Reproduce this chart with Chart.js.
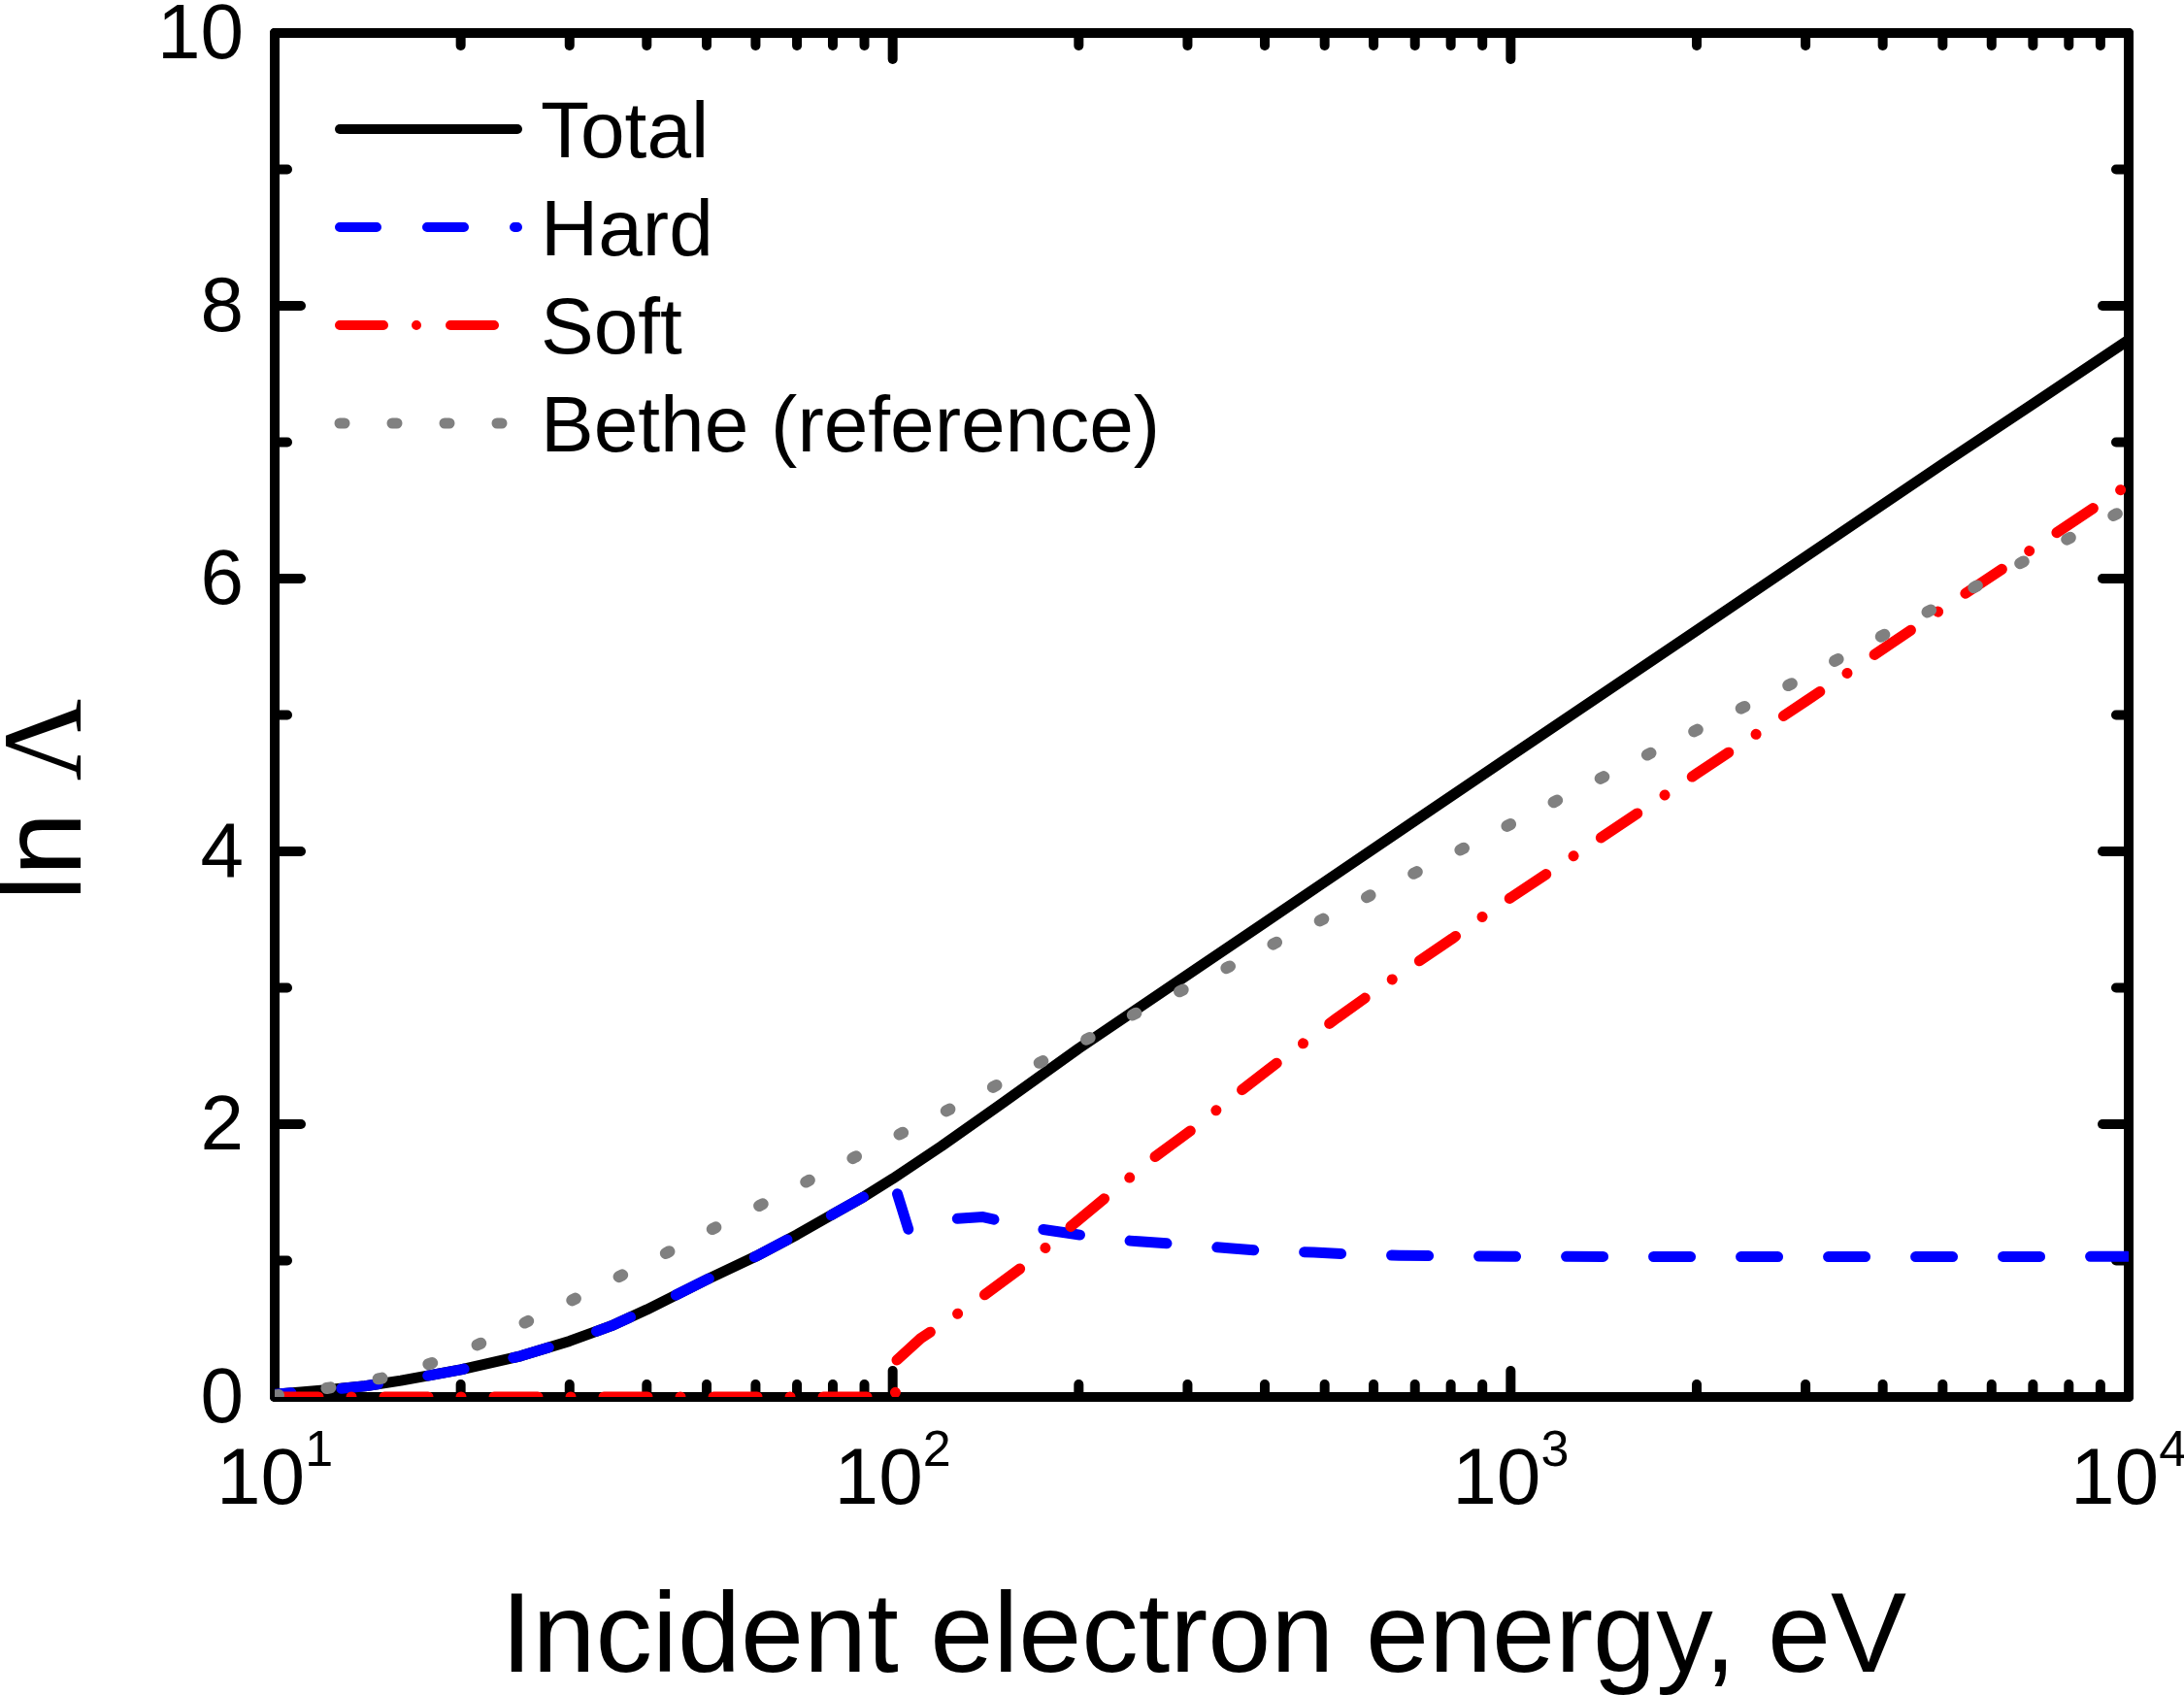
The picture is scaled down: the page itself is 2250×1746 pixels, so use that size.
<!DOCTYPE html>
<html><head><meta charset="utf-8">
<script src="https://cdn.jsdelivr.net/npm/chart.js@4.4.1/dist/chart.umd.min.js"></script>
<style>html,body{margin:0;padding:0;background:#fff;}#wrap{position:relative;width:2250px;height:1746px;}</style>
</head><body><div id="wrap"><canvas id="c"></canvas></div>
<script>
// ---- data ----
const totalE = [10,12,14,16,20,25,30,35,40,50,60,70,80,90,100,120,150,200,300,400,500,700,1000,2000,3000,5000,7000,10000];
const totalV = [0.02,0.05,0.08,0.12,0.20,0.30,0.41,0.52,0.64,0.86,1.03,1.19,1.34,1.47,1.60,1.84,2.15,2.555,3.095,3.478,3.776,4.225,4.70,5.62,6.16,6.84,7.28,7.75];

const hardE = [10,12,14,16,20,25,30,35,40,50,60,70,80,90,100,106,120,140,165,190,220,250,300,350,400,480,560,660,800,1000,2000,5000,10000];
const hardV = [0.02,0.05,0.08,0.12,0.20,0.30,0.41,0.52,0.64,0.86,1.03,1.19,1.34,1.47,1.60,1.23,1.30,1.32,1.245,1.205,1.16,1.14,1.115,1.09,1.07,1.06,1.045,1.037,1.033,1.03,1.028,1.028,1.03];

const softE = [10,101,101,111,121,140,164,193,225,262,305,353,405,464,524,596,662,804,945,1000,1400,2000,3000,5000,7000,10000];
const softV = [0,0,0.26,0.43,0.54,0.74,0.97,1.24,1.49,1.74,1.96,2.19,2.40,2.60,2.78,2.96,3.10,3.36,3.59,3.66,4.10,4.57,5.10,5.78,6.22,6.69];

const betheE = [10,12,15,18,21,25,30,36,43,51,61,73,87,103,120,143,170,200,230,270,315,365,425,485,550,620,720,845,1000,1270,1880,2880,4350,6400,10000];
const betheV = [0.01,0.06,0.14,0.25,0.37,0.53,0.70,0.88,1.055,1.23,1.405,1.585,1.76,1.93,2.08,2.255,2.435,2.59,2.74,2.90,3.05,3.195,3.35,3.48,3.60,3.725,3.87,4.03,4.20,4.44,4.83,5.24,5.67,6.07,6.52];

const seriesNames = ['Total','Hard','Soft','Bethe (reference)'];
const yMajorTicks = [0,2,4,6,8,10];
const yMinorTicks = [1,3,5,7,9];
const xMajorTicks = [10,100,1000,10000];
const xTickBase = '10';
const xTickExp = ['1','2','3','4'];
const xTitle = 'Incident electron energy, eV';
const yTitleA = 'ln ';
const yTitleB = '\u039B';

// ---- styles ----
const SANS = '"Liberation Sans", Arial, sans-serif';
const SERIF = '"Liberation Serif", "Times New Roman", serif';
const styles = [
  {color:'#000000', width:11, dash:[], offset:0, legendDash:[], legendWidth:10},
  {color:'#0000ff', width:11, dash:[38,52], offset:21, legendDash:[38,52], legendWidth:10},
  {color:'#ff0000', width:11, dash:[45,34,0.01,34], offset:0, legendDash:[45,34,0.01,35], legendWidth:10},
  {color:'#808080', width:12, dash:[4,50], offset:0, legendDash:[5,49], legendWidth:11}
];
const pts = (E,V) => E.map((e,i)=>({x:e,y:V[i]}));
const series = [pts(totalE,totalV), pts(hardE,hardV), pts(softE,softV), pts(betheE,betheV)];
const drawOrder = [4,3,2,1]; // Bethe on top

const datasets = series.map((d,i)=>({
  label: seriesNames[i], data: d,
  borderColor: styles[i].color, borderWidth: styles[i].width,
  borderDash: styles[i].dash, borderDashOffset: styles[i].offset,
  borderCapStyle:'round', borderJoinStyle:'round', pointRadius:0, tension:0, fill:false,
  order: drawOrder[i]
}));

const deco = {
  id:'deco',
  beforeDatasetsDraw(chart){
    const {ctx, chartArea:a, scales:{x,y}} = chart;
    ctx.save();
    ctx.strokeStyle='#000'; ctx.lineWidth=10; ctx.lineCap='round'; ctx.lineJoin='round';
    ctx.strokeRect(a.left, a.top, a.right-a.left, a.bottom-a.top);
    const seg=(x1,y1,x2,y2)=>{ctx.beginPath();ctx.moveTo(x1,y1);ctx.lineTo(x2,y2);ctx.stroke();};
    const MAJ=27, MIN=13;
    const xMinor=[];
    for (let k=0;k<3;k++) for (let d=2;d<=9;d++) xMinor.push(d*xMajorTicks[k]);
    xMajorTicks.forEach(v=>{const p=x.getPixelForValue(v); seg(p,a.bottom,p,a.bottom-MAJ); seg(p,a.top,p,a.top+MAJ);});
    xMinor.forEach(v=>{const p=x.getPixelForValue(v); seg(p,a.bottom,p,a.bottom-MIN); seg(p,a.top,p,a.top+MIN);});
    yMajorTicks.forEach(v=>{const p=y.getPixelForValue(v); seg(a.left,p,a.left+MAJ,p); seg(a.right,p,a.right-MAJ,p);});
    yMinorTicks.forEach(v=>{const p=y.getPixelForValue(v); seg(a.left,p,a.left+MIN,p); seg(a.right,p,a.right-MIN,p);});
    ctx.restore();
  },
  afterDraw(chart){
    const {ctx, chartArea:a, scales:{x,y}} = chart;
    ctx.save();
    ctx.fillStyle='#000'; ctx.textBaseline='alphabetic';
    // y tick labels
    ctx.font='80px '+SANS; ctx.textAlign='right';
    yMajorTicks.forEach(v=>{ctx.fillText(String(v), a.left-32, y.getPixelForValue(v)+26);});
    // x tick labels with superscripts
    ctx.textAlign='left';
    xMajorTicks.forEach((v,i)=>{
      const p=x.getPixelForValue(v);
      ctx.font='82px '+SANS; const bw=ctx.measureText(xTickBase).width;
      ctx.font='52px '+SANS; const ew=ctx.measureText(xTickExp[i]).width;
      const s=p-(bw+ew)/2;
      ctx.font='82px '+SANS; ctx.fillText(xTickBase, s, a.bottom+110);
      ctx.font='52px '+SANS; ctx.fillText(xTickExp[i], s+bw, a.bottom+71);
    });
    // x title
    ctx.font='117px '+SANS; ctx.textAlign='center';
    ctx.fillText(xTitle, (a.left+a.right)/2+2, a.bottom+283);
    // y title
    ctx.save();
    ctx.translate(83, 928); ctx.rotate(-Math.PI/2); ctx.textAlign='left';
    ctx.font='117px '+SANS; ctx.fillText(yTitleA,0,0);
    const w=ctx.measureText(yTitleA).width;
    ctx.font='117px '+SERIF; ctx.fillText(yTitleB,w,0);
    ctx.restore();
    // legend
    const rowY=[133,234,335,436];
    seriesNames.forEach((name,i)=>{
      const st=styles[i];
      ctx.save();
      ctx.strokeStyle=st.color; ctx.lineWidth=st.legendWidth; ctx.lineCap='round';
      ctx.setLineDash(st.legendDash);
      ctx.beginPath(); ctx.moveTo(350,rowY[i]); ctx.lineTo(533,rowY[i]); ctx.stroke();
      ctx.restore();
      ctx.font='82px '+SANS; ctx.textAlign='left';
      ctx.fillText(name, 557, rowY[i]+29);
    });
    ctx.restore();
  }
};

new Chart(document.getElementById('c'), {
  type:'line',
  data:{datasets},
  options:{
    responsive:true, maintainAspectRatio:false, animation:false, devicePixelRatio:1,
    layout:{padding:{left:283,right:57,top:34,bottom:307}},
    plugins:{legend:{display:false}, tooltip:{enabled:false}},
    scales:{
      x:{type:'logarithmic', min:10, max:10000, display:false},
      y:{type:'linear', min:0, max:10, display:false}
    }
  },
  plugins:[deco]
});
</script></body></html>
